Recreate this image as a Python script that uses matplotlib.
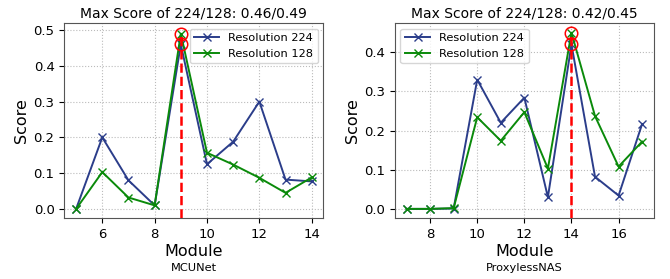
import numpy as np
import matplotlib
matplotlib.use('Agg')
import matplotlib.pyplot as plt

mod_mcu = [5, 6, 7, 8, 9, 10, 11, 12, 13, 14]
mcu_224 = [0.0, 0.20, 0.08, 0.01, 0.46, 0.125, 0.188, 0.30, 0.082, 0.077]
mcu_128 = [0.0, 0.103, 0.032, 0.01, 0.49, 0.157, 0.124, 0.087, 0.045, 0.088]

mod_pxl = [7, 8, 9, 10, 11, 12, 13, 14, 15, 16, 17]
pxl_224 = [0.0, 0.0, 0.001, 0.33, 0.22, 0.284, 0.03, 0.42, 0.082, 0.034, 0.217]
pxl_128 = [0.0, 0.0, 0.002, 0.234, 0.174, 0.247, 0.103, 0.45, 0.237, 0.108, 0.172]

names = ['MCUNet', 'ProxylessNAS']
legend_pos = ['upper right', 'upper left']
ylims = [(-0.025, 0.52), (-0.023, 0.475)]
yticks = [[0.0, 0.1, 0.2, 0.3, 0.4, 0.5], [0.0, 0.1, 0.2, 0.3, 0.4]]
xticks = [[6, 8, 10, 12, 14], [8, 10, 12, 14, 16]]

blue = '#2b3d8a'
green = '#0a8a0a'

fig, axs = plt.subplots(1, 2, figsize=(6.7, 2.79), dpi=100)

data = [(mod_mcu, mcu_224, mcu_128), (mod_pxl, pxl_224, pxl_128)]
for k, ax in enumerate(axs):
    m, s224, s128 = data[k]
    ax.plot(m, s224, marker='x', color=blue, lw=1.4, ms=6, label='Resolution 224')
    ax.plot(m, s128, marker='x', color=green, lw=1.4, ms=6, label='Resolution 128')
    i224 = int(np.argmax(s224))
    i128 = int(np.argmax(s128))
    ax.set_ylim(ylims[k])
    top = max(s224[i224], s128[i128])
    ax.vlines(m[i224], ylims[k][0], top, colors='red', linestyles='--', lw=1.8, zorder=3)
    ax.plot([m[i224]], [s224[i224]], 'o', mfc='none', mec='red', ms=9, mew=1.1, zorder=4)
    ax.plot([m[i128]], [s128[i128]], 'o', mfc='none', mec='red', ms=9, mew=1.1, zorder=4)
    ax.set_title('Max Score of 224/128: %.2f/%.2f' % (s224[i224], s128[i128]), fontsize=10, pad=4)
    ax.set_xlabel('Module', fontsize=11.5, labelpad=2.5)
    ax.text(0.5, -0.23, names[k], transform=ax.transAxes, ha='center', va='top', fontsize=8.2)
    ax.set_ylabel('Score', fontsize=11.5, labelpad=3)
    ax.set_yticks(yticks[k])
    ax.set_xticks(xticks[k])
    ax.tick_params(labelsize=9.5)
    ax.grid(True, ls=':', lw=0.8, color='#bbbbbb')
    for sp in ax.spines.values():
        sp.set_color('#555555')
    ax.legend(loc=legend_pos[k], fontsize=8.2, handlelength=2.2, borderpad=0.4, labelspacing=0.5)

fig.subplots_adjust(left=0.096, right=0.976, top=0.918, bottom=0.219, wspace=0.275)
fig.savefig('out.png', dpi=100)
